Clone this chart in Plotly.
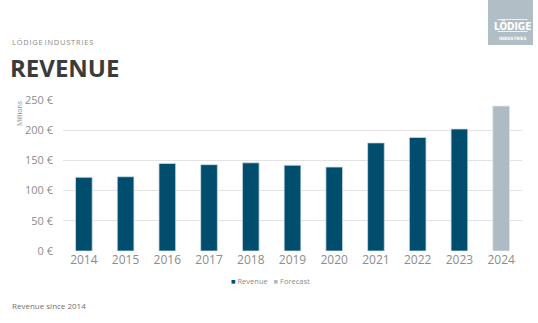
import plotly.graph_objects as go

years = ["2014", "2015", "2016", "2017", "2018", "2019", "2020", "2021", "2022", "2023"]
revenue = [122, 123, 145, 143, 146, 142, 139, 179, 188, 202]
forecast_years = ["2024"]
forecast = [240]
y_ticks = [0, 50, 100, 150, 200, 250]
y_labels = [f"{v} €" for v in y_ticks]

W, H = 538, 323
L, R, T, B = 63, 16, 100, 72
PW, PH = W - L - R, H - T - B

def px(x):
    return (x - L) / PW

def py(y):
    return (H - B - y) / PH

FONT = "Open Sans"
COND = "DejaVu Sans Condensed, DejaVu Sans"
C_REV = "#004D6E"
C_FC = "#ADBBC5"

fig = go.Figure()
fig.add_trace(go.Bar(x=years, y=revenue, name="Revenue", width=0.4,
                     marker=dict(color=C_REV, line=dict(color="#cfdde6", width=0.8))))
fig.add_trace(go.Bar(x=forecast_years, y=forecast, name="Forecast", width=0.4,
                     marker=dict(color=C_FC, line=dict(color="#dfe6eb", width=0.8))))

fig.update_layout(
    width=W, height=H,
    margin=dict(l=L, r=R, t=T, b=B),
    paper_bgcolor="white", plot_bgcolor="white",
    barmode="overlay",
    font=dict(family=FONT, color="#7f7f7f"),
    showlegend=False,
    xaxis=dict(type="category", categoryorder="array", categoryarray=years + forecast_years,
               range=[-0.5, 10.5], showgrid=False, zeroline=False, showline=False,
               ticks="", tickfont=dict(size=12, color="#8c8c8c")),
    yaxis=dict(range=[0, 250], tickvals=y_ticks, ticktext=y_labels, showgrid=True,
               gridcolor="#e3e3e3", gridwidth=1, zeroline=False, showline=False,
               ticks="", ticklabelstandoff=9, tickfont=dict(size=11, color="#8c8c8c")),
)

legend_text = (f"<span style='color:{C_REV}'>■</span> Revenue   "
               f"<span style='color:{C_FC}'>■</span> Forecast")

annotations = [
    dict(text="L Ö D I G E   I N D U S T R I E S".replace(" ", "\u200a").replace("\u200a\u200a\u200a", " "),
         x=px(10), y=py(42), xanchor="left", yanchor="middle",
         font=dict(size=7.5, color="#8a8a8a", family=FONT)),
    dict(text="<b>REVENUE</b>", x=px(8), y=py(67), xanchor="left", yanchor="middle",
         font=dict(size=24, color="#3b3b3b", family=FONT)),
    dict(text="Millions", x=px(19), y=py(113), xanchor="center", yanchor="middle", textangle=-90,
         font=dict(size=7, color="#8c8c8c", family=FONT)),
    dict(text=legend_text, x=px(270), y=py(281), xanchor="center", yanchor="middle",
         font=dict(size=7.5, color="#8c8c8c", family=FONT)),
    dict(text="Revenue since 2014", x=px(10), y=py(305), xanchor="left", yanchor="middle",
         font=dict(size=8, color="#6f6f6f", family=FONT)),
    dict(text="<span style='font-stretch:condensed'>LÖDIGE</span>", x=px(512.5), y=py(25.5),
         xanchor="center", yanchor="middle",
         font=dict(size=10, color="white", family=COND, weight="bold")),
    dict(text="<span style='font-stretch:condensed'>INDUSTRIES</span>", x=px(512.5), y=py(38.5),
         xanchor="center", yanchor="middle",
         font=dict(size=4.5, color="white", family=COND, weight="bold")),
]
for a in annotations:
    a.update(xref="paper", yref="paper", showarrow=False)
fig.update_layout(annotations=annotations)

fig.update_layout(shapes=[
    dict(type="rect", xref="paper", yref="paper", x0=px(488), x1=px(533), y0=py(0), y1=py(45),
         fillcolor="#B1BEC6", line=dict(width=0), layer="below"),
    dict(type="line", xref="paper", yref="paper", x0=px(497.5), x1=px(527.5), y0=py(19.5), y1=py(19.5),
         line=dict(color="white", width=0.8)),
    dict(type="line", xref="paper", yref="paper", x0=px(497.5), x1=px(527.5), y0=py(31.5), y1=py(31.5),
         line=dict(color="white", width=0.8)),
])

fig.write_html("out.html")
